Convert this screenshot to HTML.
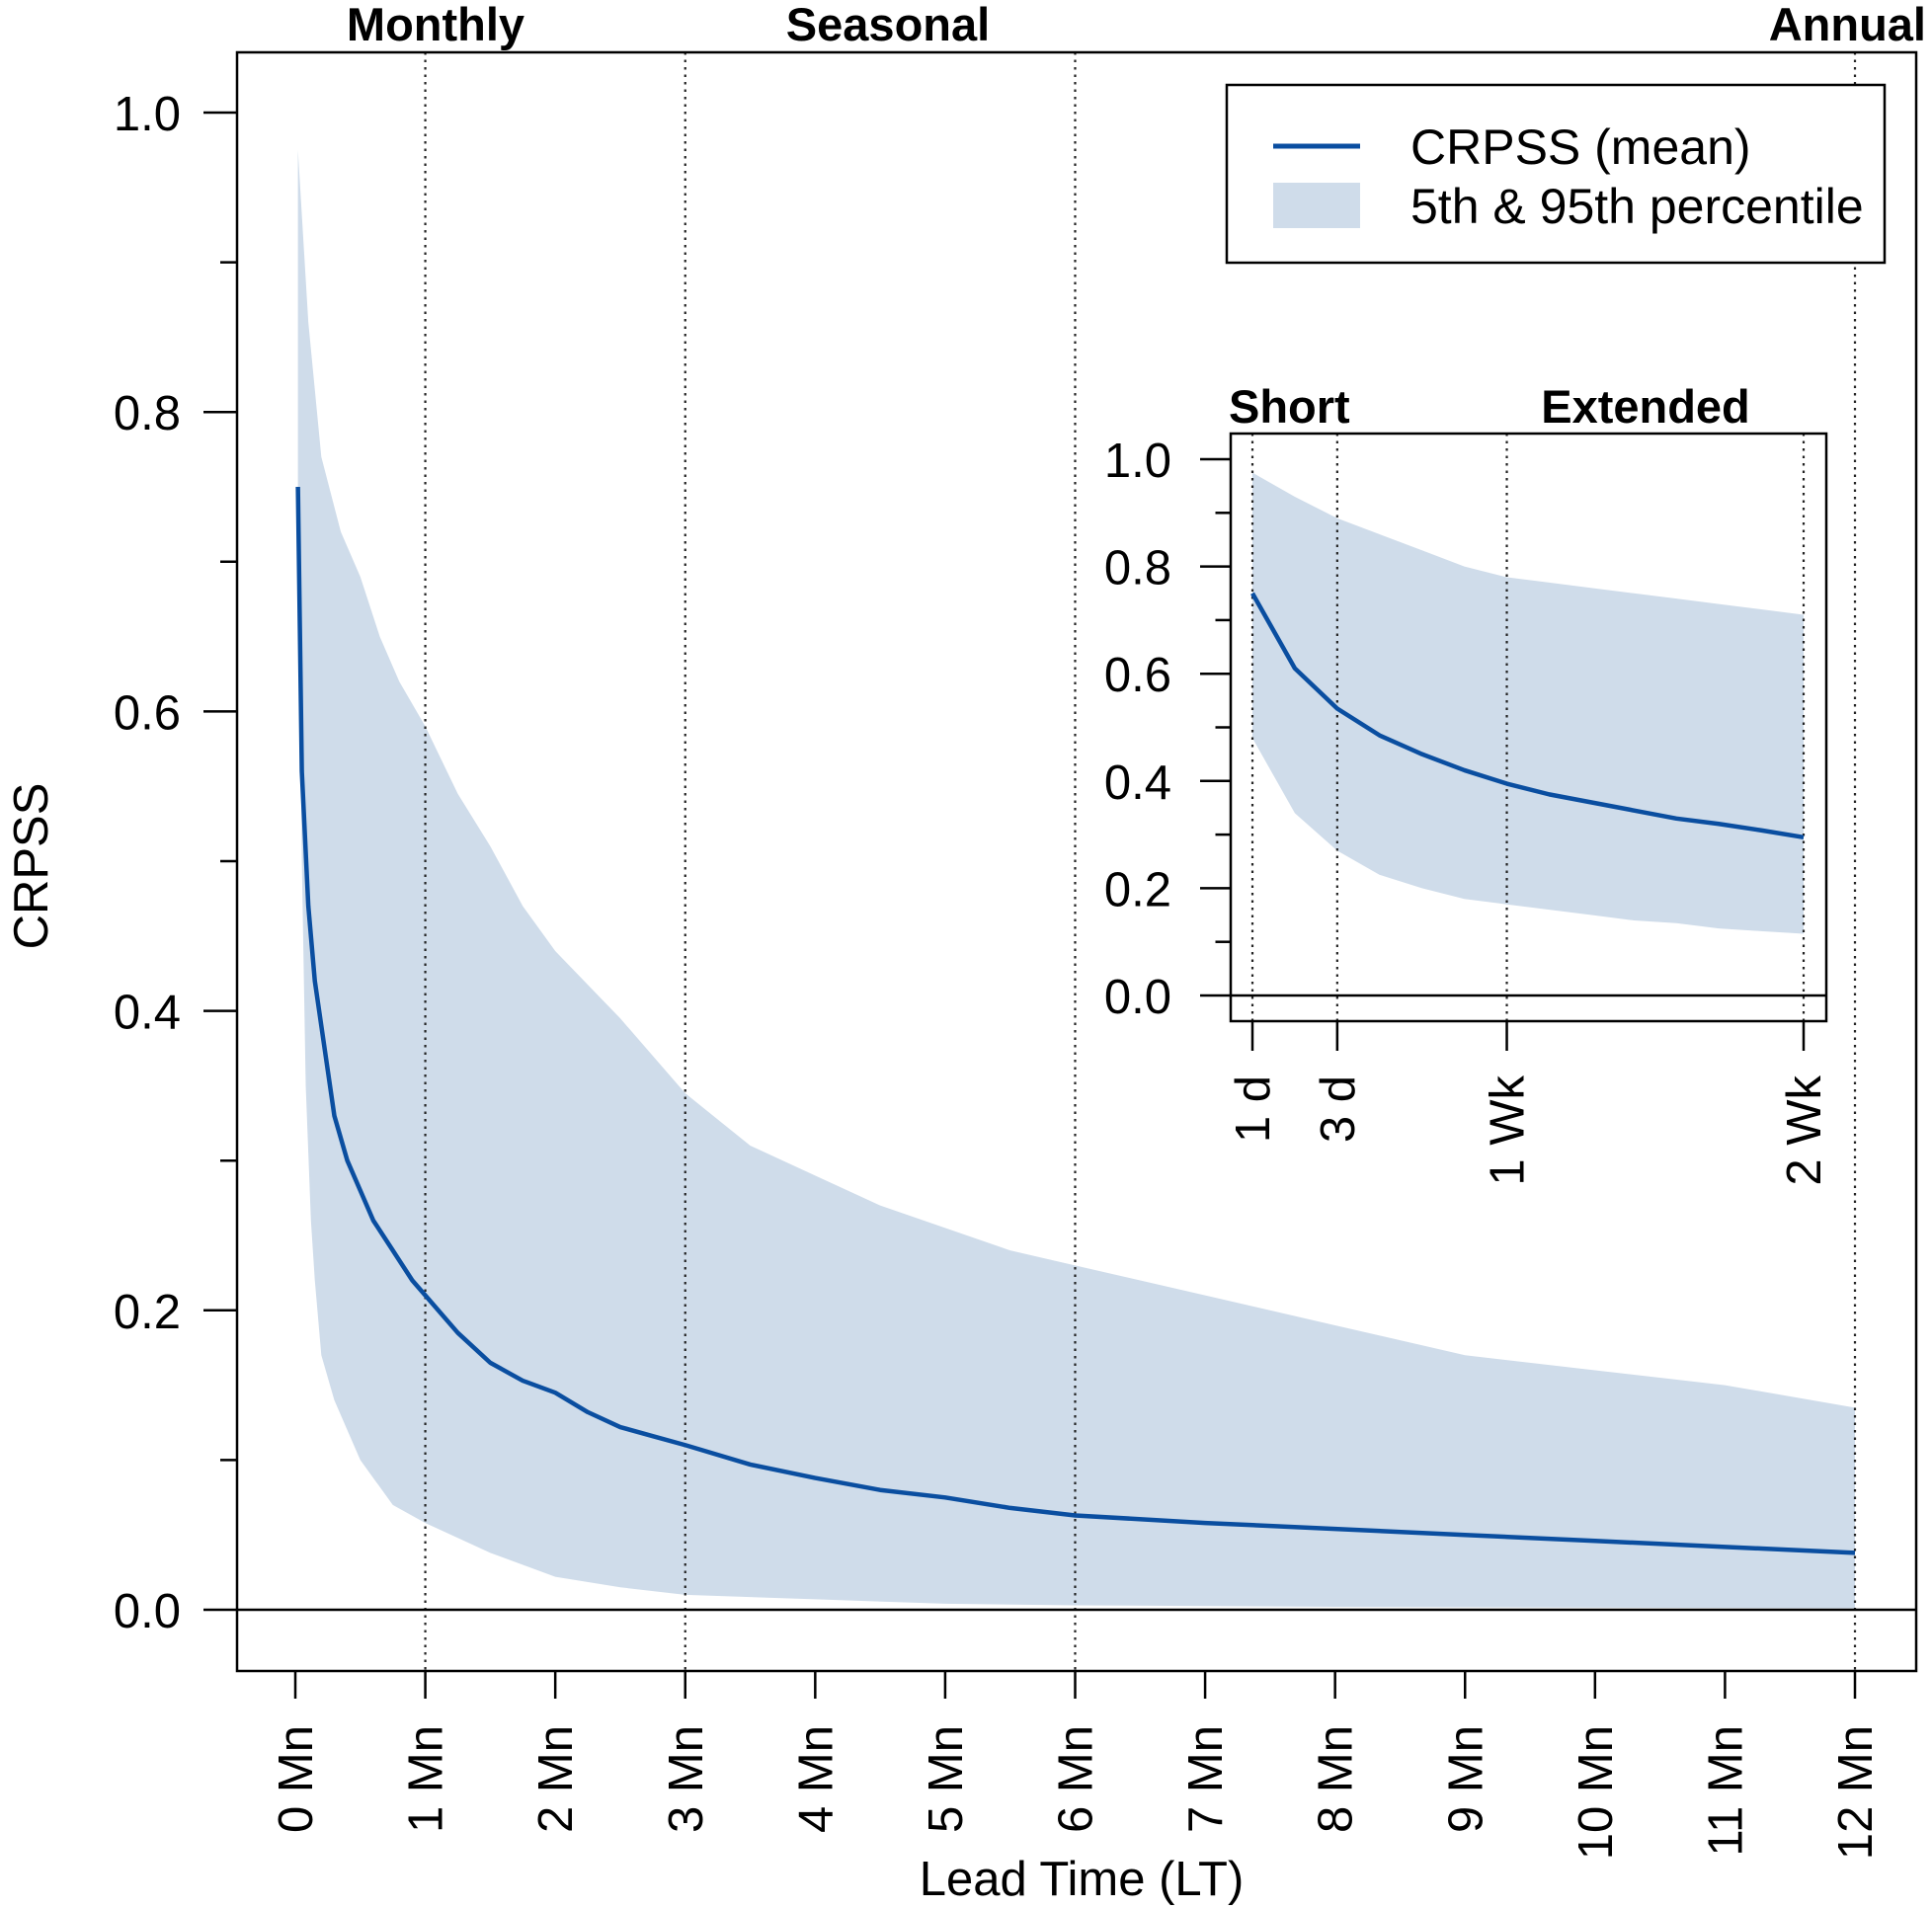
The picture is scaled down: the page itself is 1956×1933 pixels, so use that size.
<!DOCTYPE html>
<html><head><meta charset="utf-8"><style>
html,body{margin:0;padding:0;background:#fff}
svg{display:block}
text{font-family:"Liberation Sans",Arial,sans-serif;fill:#000}
</style></head><body>
<svg id="chart" width="1956" height="1933" viewBox="0 0 1956 1933" xmlns="http://www.w3.org/2000/svg">
<g id="main"></g>
<g id="inset"></g>
<g id="legend">
<rect x="1242" y="86" width="666" height="180" fill="#fff" stroke="#000" stroke-width="2.5"/>
<line x1="1289" y1="148" x2="1377" y2="148" stroke="#0a4ea0" stroke-width="5"/>
<rect x="1289" y="185" width="88" height="46" fill="#cfdcea"/>
<text x="1428" y="166" font-size="50">CRPSS (mean)</text>
<text x="1428" y="226" font-size="50">5th &amp; 95th percentile</text>
</g>
</svg>
<script>
// Main chart data (months)
const mainMeanX=[0.02,0.05,0.1,0.15,0.2,0.3,0.4,0.5,0.6,0.75,0.9,1,1.25,1.5,1.75,2,2.25,2.5,2.75,3,3.5,4,4.5,5,5.5,6,7,8,9,10,11,12];
const mainMean=[0.75,0.56,0.47,0.42,0.39,0.33,0.30,0.28,0.26,0.24,0.22,0.21,0.185,0.165,0.153,0.145,0.132,0.122,0.116,0.11,0.097,0.088,0.08,0.075,0.068,0.063,0.058,0.054,0.05,0.046,0.042,0.038];
const mainUpX=[0.02,0.1,0.2,0.35,0.5,0.65,0.8,1,1.25,1.5,1.75,2,2.5,3,3.5,4,4.5,5,5.5,6,7,8,9,10,11,12];
const mainUpper=[0.975,0.86,0.77,0.72,0.69,0.65,0.62,0.59,0.545,0.51,0.47,0.44,0.395,0.345,0.31,0.29,0.27,0.255,0.24,0.23,0.21,0.19,0.17,0.16,0.15,0.135];
const mainLoX=[0.02,0.05,0.08,0.12,0.15,0.2,0.3,0.4,0.5,0.75,1,1.25,1.5,2,2.5,3,4,5,6,8,12];
const mainLower=[0.75,0.5,0.35,0.26,0.22,0.17,0.14,0.12,0.1,0.07,0.058,0.048,0.038,0.022,0.015,0.01,0.007,0.004,0.003,0.002,0.001];
const mainTicks=[0,1,2,3,4,5,6,7,8,9,10,11,12];
const mainTickLabels=["0 Mn","1 Mn","2 Mn","3 Mn","4 Mn","5 Mn","6 Mn","7 Mn","8 Mn","9 Mn","10 Mn","11 Mn","12 Mn"];
const mainDotted=[1,3,6,12];
const yTicks=[0,0.2,0.4,0.6,0.8,1.0];
const yTickLabels=["0.0","0.2","0.4","0.6","0.8","1.0"];
const yMinor=[0.1,0.3,0.5,0.7,0.9];
// Inset data (days)
const insetDays=[1,2,3,4,5,6,7,8,9,10,11,12,13,14];
const insetMean=[0.75,0.61,0.535,0.485,0.45,0.42,0.395,0.375,0.36,0.345,0.33,0.32,0.308,0.295];
const insetUpper=[0.975,0.93,0.89,0.86,0.83,0.80,0.78,0.77,0.76,0.75,0.74,0.73,0.72,0.71];
const insetLower=[0.48,0.34,0.27,0.225,0.2,0.18,0.17,0.16,0.15,0.14,0.135,0.125,0.12,0.115];
const insetTicks=[1,3,7,14];
const insetTickLabels=["1 d","3 d","1 Wk","2 Wk"];

const NS="http://www.w3.org/2000/svg";
function mk(parent,tag,attrs,text){const e=document.createElementNS(NS,tag);for(const k in attrs)e.setAttribute(k,attrs[k]);if(text!==undefined)e.textContent=text;parent.appendChild(e);return e;}

function drawPanel(g,cfg){
  const {X,Y,box,bandX1,band1,bandX2,band2,lineX,line,ticks,tickLabels,dotted,fs,tickLen,labOff,xTickLen,xLabOff}=cfg;
  let d="";
  bandX1.forEach((v,i)=>{d+=(i?"L":"M")+X(v)+","+Y(band1[i]);});
  for(let i=bandX2.length-1;i>=0;i--)d+="L"+X(bandX2[i])+","+Y(band2[i]);
  const band=mk(g,"path",{d:d+"Z",fill:"#cfdcea"});
  
  
  dotted.forEach(v=>{const l=mk(g,"line",{x1:X(v),x2:X(v),y1:box.t,y2:box.b,stroke:"#222","stroke-width":2.2,"stroke-dasharray":"2.5,5"});
    
    });
  const z=mk(g,"line",{x1:box.l,x2:box.r,y1:Y(0),y2:Y(0),stroke:"#000","stroke-width":2.5});
  
  
  let p="";lineX.forEach((v,i)=>{p+=(i?"L":"M")+X(v)+","+Y(line[i]);});
  const ml=mk(g,"path",{d:p,fill:"none",stroke:"#0a4ea0","stroke-width":4.5,"stroke-linejoin":"round"});
  
  
  const r=mk(g,"rect",{x:box.l,y:box.t,width:box.r-box.l,height:box.b-box.t,fill:"none",stroke:"#000","stroke-width":2.5});
  
  
  yTicks.forEach((v,i)=>{mk(g,"line",{x1:box.l-tickLen,x2:box.l,y1:Y(v),y2:Y(v),stroke:"#000","stroke-width":2.5});
    const t=mk(g,"text",{x:box.l-labOff,y:Y(v)+18,"font-size":fs,"text-anchor":"end"},yTickLabels[i]);
    
    });
  yMinor.forEach(v=>{mk(g,"line",{x1:box.l-tickLen*0.5,x2:box.l,y1:Y(v),y2:Y(v),stroke:"#000","stroke-width":2.5});});
  ticks.forEach((v,i)=>{mk(g,"line",{x1:X(v),x2:X(v),y1:box.b,y2:box.b+xTickLen,stroke:"#000","stroke-width":2.5});
    const x=X(v)+17,y=box.b+xLabOff;
    const t=mk(g,"text",{x:x,y:y,"font-size":fs,"text-anchor":"end",transform:`rotate(-90 ${x} ${y})`},tickLabels[i]);
    
    });
}

const mainBox={l:240,r:1940,t:53,b:1692};
const mX=v=>299+v*(1878-299)/12, mY=v=>1630-v*(1630-114);
drawPanel(document.getElementById("main"),{X:mX,Y:mY,box:mainBox,bandX1:mainUpX,band1:mainUpper,bandX2:mainLoX,band2:mainLower,lineX:mainMeanX,line:mainMean,ticks:mainTicks,tickLabels:mainTickLabels,dotted:mainDotted,fs:49,tickLen:34,labOff:57,xTickLen:28,xLabOff:55});

const insBox={l:1246,r:1849,t:439,b:1034};
const iX=v=>1268+(v-1)*(1826-1268)/13, iY=v=>1008-v*(1008-465);
drawPanel(document.getElementById("inset"),{X:iX,Y:iY,box:insBox,bandX1:insetDays,band1:insetUpper,bandX2:insetDays,band2:insetLower,lineX:insetDays,line:insetMean,ticks:insetTicks,tickLabels:insetTickLabels,dotted:insetTicks,fs:49,tickLen:31,labOff:60,xTickLen:30,xLabOff:55});

const svg=document.getElementById("chart");
function lab(x,y,txt,anchor,name,extra){const t=mk(svg,"text",Object.assign({x:x,y:y,"font-size":extra&&extra.fs||46,"text-anchor":anchor},extra&&extra.attrs||{}),txt);
  
  return t;}
lab(441,41,"Monthly","middle","label-monthly",{fs:47,attrs:{"font-weight":"bold"}});
lab(899,41,"Seasonal","middle","label-seasonal",{fs:47,attrs:{"font-weight":"bold"}});
lab(1950,41,"Annual","end","label-annual",{fs:47,attrs:{"font-weight":"bold"}});
lab(1244,428,"Short","start","label-short",{fs:47,attrs:{"font-weight":"bold"}});
lab(1666,428,"Extended","middle","label-extended",{fs:47,attrs:{"font-weight":"bold"}});
lab(1095,1933-14,"Lead Time (LT)","middle","x-axis-title",{fs:49});
lab(48,877,"CRPSS","middle","y-axis-title",{fs:49,attrs:{transform:"rotate(-90 48 877)"}});
</script>
</body></html>
